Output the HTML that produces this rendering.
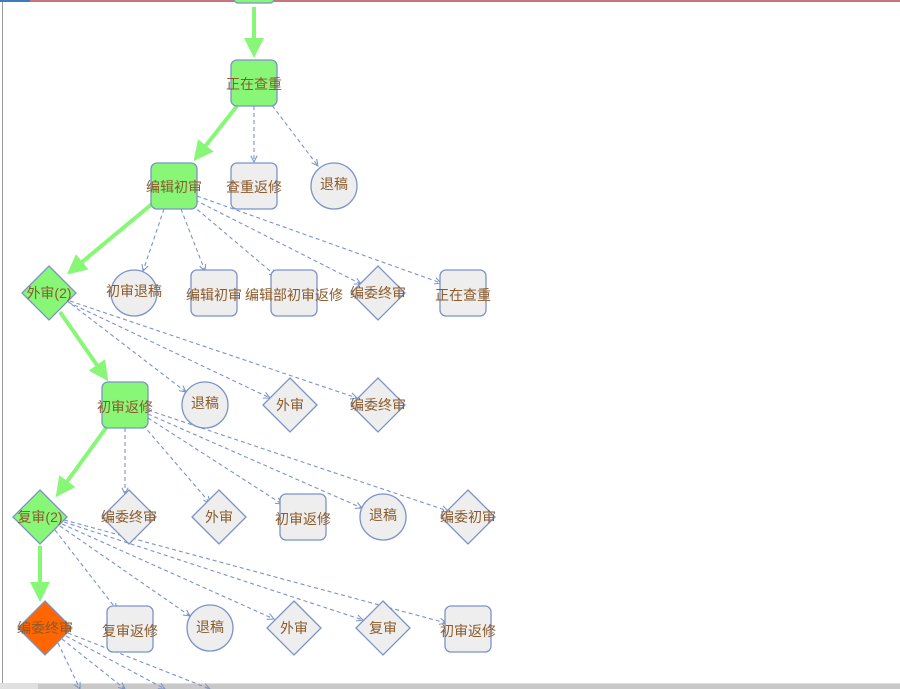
<!DOCTYPE html>
<html><head><meta charset="utf-8"><style>
html,body{margin:0;padding:0;width:900px;height:689px;overflow:hidden;background:#fff}
svg{display:block}
text{font-family:"Liberation Sans","Noto Sans CJK SC",sans-serif;font-size:14px;fill:#8a5a2b;text-anchor:middle;dominant-baseline:central}
.n{fill:#eeeeee;stroke:#7b93c8;stroke-width:1.3}
.g{fill:#88f777;stroke:#7b93c8;stroke-width:1.3}
.o{fill:#ff6600;stroke:#7b93c8;stroke-width:1.3}
.d{stroke:#7b93c8;stroke-width:1.1;stroke-dasharray:4 3;fill:none;marker-end:url(#ad)}
.s{stroke:#88f777;stroke-width:4;fill:none;marker-end:url(#as)}
</style></head><body>
<svg width="900" height="689" viewBox="0 0 900 689">
<defs>
<marker id="ad" viewBox="0 0 10 10" refX="9" refY="5" markerWidth="8" markerHeight="8" orient="auto" markerUnits="userSpaceOnUse"><path d="M1,1 L9,5 L1,9" fill="none" stroke="#7b93c8" stroke-width="1.3"/></marker>
<marker id="as" viewBox="0 0 10 10" refX="8" refY="5" markerWidth="5" markerHeight="5" orient="auto"><path d="M0,0 L10,5 L0,10 Z" fill="#88f777"/></marker>
</defs>
<rect x="0" y="0" width="900" height="2" fill="#c8747c"/>
<rect x="0" y="0" width="30" height="2" fill="#3a7cc0"/>
<rect x="2" y="2" width="1" height="682" fill="#999"/>
<rect x="0" y="683" width="900" height="6" fill="#e0e0e0"/>
<rect x="38" y="684" width="862" height="5" fill="#c8c8c8"/>
<rect x="234" y="-10" width="40" height="13" rx="4" class="g"/>

<path class="s" d="M254,7 L254,54"/>
<path class="s" d="M237,106 L196,158"/>
<path class="s" d="M152,204 L70,272"/>
<path class="s" d="M60,312 L106,378"/>
<path class="s" d="M106,428 L58,494"/>
<path class="s" d="M40,546 L40,598"/>

<path class="d" d="M254,106 L254,162"/>
<path class="d" d="M268,100 L318,166"/>
<path class="d" d="M164,209 L143,271"/>
<path class="d" d="M181,209 L205,271"/>
<path class="d" d="M192,205 L276,276"/>
<path class="d" d="M195,200 L361,284"/>
<path class="d" d="M197,196 L441,283"/>
<path class="d" d="M66,300 L186,392"/>
<path class="d" d="M68,302 L270,398"/>
<path class="d" d="M70,301 L357,398"/>
<path class="d" d="M125,428 L125,494"/>
<path class="d" d="M143,425 L210,503"/>
<path class="d" d="M148,418 L282,504"/>
<path class="d" d="M148,414 L362,508"/>
<path class="d" d="M148,410 L448,511"/>
<path class="d" d="M55,530 L117,610"/>
<path class="d" d="M60,526 L190,616"/>
<path class="d" d="M62,524 L274,619"/>
<path class="d" d="M64,522 L363,620"/>
<path class="d" d="M64,520 L446,623"/>
<path class="d" d="M58,643 L80,689"/>
<path class="d" d="M62,639 L125,689"/>
<path class="d" d="M66,636 L165,689"/>
<path class="d" d="M68,633 L210,689"/>

<rect x="231" y="60" width="46" height="46" rx="6" class="g"/><text x="254" y="84">正在查重</text>
<rect x="151" y="163" width="46" height="46" rx="6" class="g"/><text x="174" y="187">编辑初审</text>
<rect x="231" y="163" width="46" height="46" rx="6" class="n"/><text x="254" y="187">查重返修</text>
<circle cx="334" cy="186" r="23" class="n"/><text x="334" y="184">退稿</text>

<path d="M49,266 L76,293 L49,320 L22,293 Z" class="g"/><text x="49" y="293">外审(2)</text>
<circle cx="134" cy="293" r="23" class="n"/><text x="134" y="291">初审退稿</text>
<rect x="191" y="270" width="46" height="46" rx="6" class="n"/><text x="214" y="295">编辑初审</text>
<rect x="271" y="270" width="46" height="46" rx="6" class="n"/><text x="294" y="295">编辑部初审返修</text>
<path d="M378,266 L405,293 L378,320 L351,293 Z" class="n"/><text x="378" y="293">编委终审</text>
<rect x="440" y="270" width="46" height="46" rx="6" class="n"/><text x="463" y="295">正在查重</text>

<rect x="102" y="382" width="46" height="46" rx="6" class="g"/><text x="125" y="407">初审返修</text>
<circle cx="205" cy="405" r="23" class="n"/><text x="205" y="403">退稿</text>
<path d="M290,378 L317,405 L290,432 L263,405 Z" class="n"/><text x="290" y="405">外审</text>
<path d="M378,378 L405,405 L378,432 L351,405 Z" class="n"/><text x="378" y="405">编委终审</text>

<path d="M40,490 L67,517 L40,544 L13,517 Z" class="g"/><text x="40" y="517">复审(2)</text>
<path d="M129,490 L156,517 L129,544 L102,517 Z" class="n"/><text x="129" y="517">编委终审</text>
<path d="M219,490 L246,517 L219,544 L192,517 Z" class="n"/><text x="219" y="517">外审</text>
<rect x="280" y="494" width="46" height="46" rx="6" class="n"/><text x="303" y="519">初审返修</text>
<circle cx="383" cy="517" r="23" class="n"/><text x="383" y="515">退稿</text>
<path d="M468,490 L495,517 L468,544 L441,517 Z" class="n"/><text x="468" y="517">编委初审</text>

<path d="M45,601 L72,628 L45,655 L18,628 Z" class="o"/><text x="45" y="628">编委终审</text>
<rect x="107" y="606" width="46" height="46" rx="6" class="n"/><text x="130" y="631">复审返修</text>
<circle cx="210" cy="628" r="23" class="n"/><text x="210" y="627">退稿</text>
<path d="M294,601 L321,628 L294,655 L267,628 Z" class="n"/><text x="294" y="628">外审</text>
<path d="M383,601 L410,628 L383,655 L356,628 Z" class="n"/><text x="383" y="628">复审</text>
<rect x="445" y="606" width="46" height="46" rx="6" class="n"/><text x="468" y="631">初审返修</text>
</svg>
</body></html>
